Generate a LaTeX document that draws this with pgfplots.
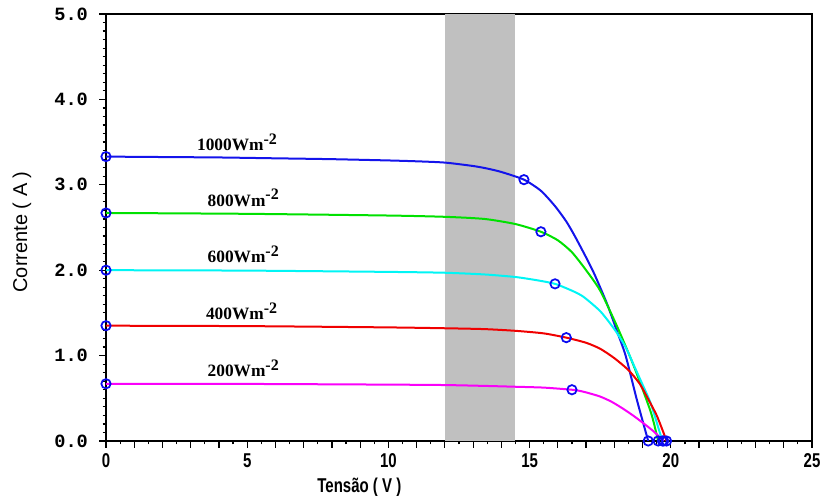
\documentclass[border=0pt]{standalone}
\usepackage{pgfplots}
\pgfplotsset{compat=1.18}
\usetikzlibrary{calc}
\usepackage{fontspec}
\setmainfont{Liberation Sans}
\newfontfamily\monob{Liberation Mono}
\newfontfamily\narrow[FakeStretch=0.75]{Liberation Sans}
\newfontfamily\serifb{Liberation Serif}

\definecolor{band}{RGB}{192,192,192}
\definecolor{c1000}{RGB}{20,20,235}
\definecolor{c800}{RGB}{0,225,0}
\definecolor{c600}{RGB}{0,245,245}
\definecolor{c400}{RGB}{240,0,0}
\definecolor{c200}{RGB}{250,0,250}
\definecolor{mk}{RGB}{10,10,240}

\newcommand{\irr}[1]{#1Wm\raisebox{0.8ex}{\fontsize{12}{13}\selectfont -2}}

\begin{document}
\begin{tikzpicture}
\begin{axis}[
  name=ax,
  scale only axis,
  width=529.5pt, height=320.25pt,
  xmin=0, xmax=25, ymin=0, ymax=5,
  axis line style={line width=1.2pt},
  tick align=outside,
  xtick pos=bottom, ytick pos=left,
  xtick={0,1,...,25},
  xticklabels={0,,,,,5,,,,,10,,,,,15,,,,,20,,,,,25},
  minor x tick num=1,
  ytick={0,1,...,5},
  minor y tick num=9,
  major tick length=5pt, minor tick length=2.5pt,
  every tick/.style={black, line width=0.9pt},
  /pgf/number format/assume math mode=true,
  yticklabel={\pgfmathprintnumber[fixed,fixed zerofill,precision=1]{\tick}},
  yticklabel style={font=\fontsize{14}{16}\selectfont\monob\bfseries, xshift=-5pt},
  xticklabel style={font=\fontsize{15}{17}\selectfont\narrow\bfseries, yshift=-3pt, inner sep=1pt},
  clip=true,
]
\fill[band] (axis cs:12,0) rectangle (axis cs:14.5,5);

\addplot[c1000, line width=1.5pt, smooth, tension=0.4] coordinates {
 (0,3.33)(2,3.325)(4,3.32)(6,3.31)(8,3.30)(10,3.285)(11,3.275)(12,3.26)(13,3.22)(13.5,3.19)(14,3.15)
 (14.8,3.06)(15.4,2.93)(15.9,2.75)(16.3,2.57)(16.6,2.40)(17.0,2.15)(17.3,1.95)(17.75,1.60)(18.1,1.28)
 (18.4,1.00)(18.8,0.48)(19.2,0)
};
\addplot[c800, line width=1.5pt, smooth, tension=0.4] coordinates {
 (0,2.67)(5,2.66)(10,2.64)(12,2.625)(13.4,2.60)(14.5,2.54)(15.4,2.45)(16.0,2.35)(16.5,2.21)(17.0,2.00)
 (17.5,1.76)(18.1,1.34)(18.7,0.87)(19.3,0.33)(19.55,0)
};
\addplot[c600, line width=1.5pt, smooth, tension=0.4] coordinates {
 (0,2.0)(5,1.995)(10,1.98)(12,1.97)(13.4,1.95)(14.5,1.92)(15.3,1.88)(15.9,1.84)(16.5,1.76)(16.9,1.69)
 (17.5,1.52)(18.0,1.31)(18.4,1.10)(18.7,0.88)(19.0,0.66)(19.3,0.43)(19.7,0)
};
\addplot[c400, line width=1.5pt, smooth, tension=0.4] coordinates {
 (0,1.35)(5,1.345)(10,1.33)(12,1.32)(13.4,1.31)(14.5,1.29)(15.5,1.26)(16.3,1.21)(17.0,1.15)(17.5,1.08)
 (18.0,0.97)(18.5,0.83)(18.9,0.67)(19.2,0.49)(19.5,0.30)(19.75,0.09)(19.85,0)
};
\addplot[c200, line width=1.5pt, smooth, tension=0.4] coordinates {
 (0,0.67)(5,0.668)(10,0.66)(12,0.655)(13.4,0.645)(14.5,0.635)(15.5,0.625)(16.5,0.60)(16.8,0.585)
 (17.1,0.56)(17.5,0.52)(17.9,0.46)(18.3,0.38)(18.7,0.29)(19.1,0.19)(19.4,0.11)(19.75,0)
};

% short-circuit, maximum power and open-circuit points
\addplot[only marks, mark=o, mark size=3.5pt, mark options={mk, line width=1.3pt}, clip=false] coordinates {
 (0,3.33)(14.8,3.06)(19.2,0)
 (0,2.67)(15.4,2.45)(19.55,0)
 (0,2.0)(15.9,1.84)(19.7,0)
 (0,1.35)(16.3,1.21)(19.85,0)
 (0,0.67)(16.5,0.60)(19.75,0)
};

\node[font=\fontsize{13}{15}\selectfont\serifb\bfseries, anchor=base] at (axis cs:4.64,3.40) {\irr{1000}};
\node[font=\fontsize{13}{15}\selectfont\serifb\bfseries, anchor=base] at (axis cs:4.86,2.75) {\irr{800}};
\node[font=\fontsize{13}{15}\selectfont\serifb\bfseries, anchor=base] at (axis cs:4.86,2.09) {\irr{600}};
\node[font=\fontsize{13}{15}\selectfont\serifb\bfseries, anchor=base] at (axis cs:4.80,1.42) {\irr{400}};
\node[font=\fontsize{13}{15}\selectfont\serifb\bfseries, anchor=base] at (axis cs:4.86,0.75) {\irr{200}};
\end{axis}

\node[rotate=90, font=\fontsize{15}{17}\selectfont] at ($(ax.south west)+(-63pt,156.75pt)$) {Corrente ( A )};
\node[font=\fontsize{15}{17}\selectfont\narrow\bfseries, inner sep=1pt] at ($(ax.south west)+(190pt,-34.5pt)$) {Tensão ( V )};

\pgfresetboundingbox
\path ($(ax.south west)+(-79.5pt,-41.25pt)$) rectangle ($(ax.north east)+(7.5pt,10.5pt)$);
\end{tikzpicture}
\end{document}
